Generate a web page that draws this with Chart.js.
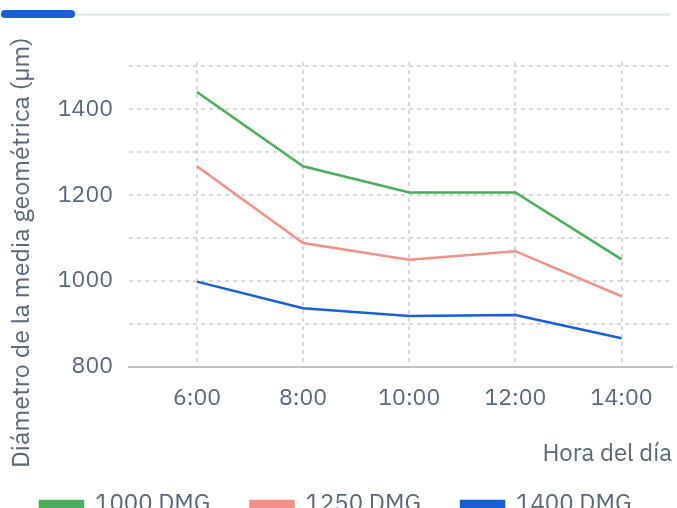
<!DOCTYPE html>
<html>
<head>
<meta charset="utf-8">
<script src="https://cdn.jsdelivr.net/npm/chart.js@4.4.1/dist/chart.umd.min.js"></script>
<style>
  html, body { margin: 0; padding: 0; background: #fff; }
  #wrap { position: relative; width: 677px; height: 508px; overflow: hidden; }
  #track { position: absolute; left: 0; top: 13px; width: 670px; height: 3px; background: #e9edf1; }
  #bar { position: absolute; left: 1px; top: 10px; width: 74px; height: 8px; border-radius: 4px; background: #1760d4; }
  #chart { position: absolute; left: 0; top: 0; }
</style>
</head>
<body>
<div id="wrap">
  <div id="track"></div>
  <div id="bar"></div>
  <canvas id="chart" width="677" height="526"></canvas>
</div>
<script>
// data
var horas = [6, 8, 10, 12, 14];
var etiquetas = ['6:00', '8:00', '10:00', '12:00', '14:00'];
var serie1000 = [1440, 1267, 1206, 1206, 1050];
var serie1250 = [1267, 1088, 1049, 1069, 964];
var serie1400 = [998, 936, 918, 920, 866];
var yTicks = [800, 900, 1000, 1100, 1200, 1300, 1400, 1500];

var verde = '#4cae5c';
var rosa = '#f0918a';
var azul = '#1760d4';
var texto = '#5a6878';
var rejilla = '#d9d9d9';
var fuente = '"IBM Plex Sans", "Noto Sans", sans-serif';

function puntos(vals) {
  return horas.map(function (h, i) { return { x: h, y: vals[i] }; });
}

var ctx = document.getElementById('chart').getContext('2d');
var myChart = new Chart(ctx, {
  type: 'line',
  data: {
    datasets: [{
      label: '1000 DMG',
      data: puntos(serie1000),
      borderColor: verde,
      backgroundColor: verde
    }, {
      label: '1250 DMG',
      data: puntos(serie1250),
      borderColor: rosa,
      backgroundColor: rosa
    }, {
      label: '1400 DMG',
      data: puntos(serie1400),
      borderColor: azul,
      backgroundColor: azul
    }]
  },
  options: {
    responsive: false,
    animation: false,
    devicePixelRatio: 1,
    elements: {
      line: { borderWidth: 2.5, tension: 0 },
      point: { radius: 0 }
    },
    layout: { padding: { top: 62, right: 5, left: 0, bottom: 0 } },
    plugins: {
      tooltip: { enabled: false },
      legend: {
        position: 'bottom',
        align: 'start',
        labels: {
          color: texto,
          font: { family: fuente, size: 24 },
          boxWidth: 43,
          boxHeight: 6,
          padding: 40
        }
      }
    },
    scales: {
      x: {
        type: 'linear',
        min: 4.72,
        max: 14.95,
        afterBuildTicks: function (scale) {
          scale.ticks = horas.map(function (h) { return { value: h }; });
        },
        ticks: {
          color: texto,
          font: { family: fuente, size: 23 },
          padding: 18,
          callback: function (v) { return etiquetas[horas.indexOf(v)]; }
        },
        grid: {
          color: rejilla,
          lineWidth: 2,
          drawTicks: false
        },
        border: { display: true, color: '#bfbfbf', width: 2, dash: [4, 4] },
        title: {
          display: true,
          text: 'Hora del día',
          align: 'end',
          color: texto,
          font: { family: fuente, size: 24 },
          padding: { top: 9, bottom: -16 }
        }
      },
      y: {
        min: 800,
        max: 1510,
        afterBuildTicks: function (scale) {
          scale.ticks = yTicks.map(function (v) { return { value: v }; });
        },
        afterFit: function (scale) { scale.width = 129; },
        ticks: {
          color: texto,
          font: { family: fuente, size: 23 },
          padding: 16,
          callback: function (v) { return v % 200 === 0 ? v : ''; }
        },
        grid: {
          color: rejilla,
          lineWidth: 2,
          drawTicks: false
        },
        border: { display: false, dash: [4, 4] },
        title: {
          display: true,
          text: 'Diámetro de la media geométrica (µm)             ',
          color: texto,
          font: { family: fuente, size: 25 },
          padding: { top: 7, bottom: 0 }
        }
      }
    }
  }
});
</script>
</body>
</html>
